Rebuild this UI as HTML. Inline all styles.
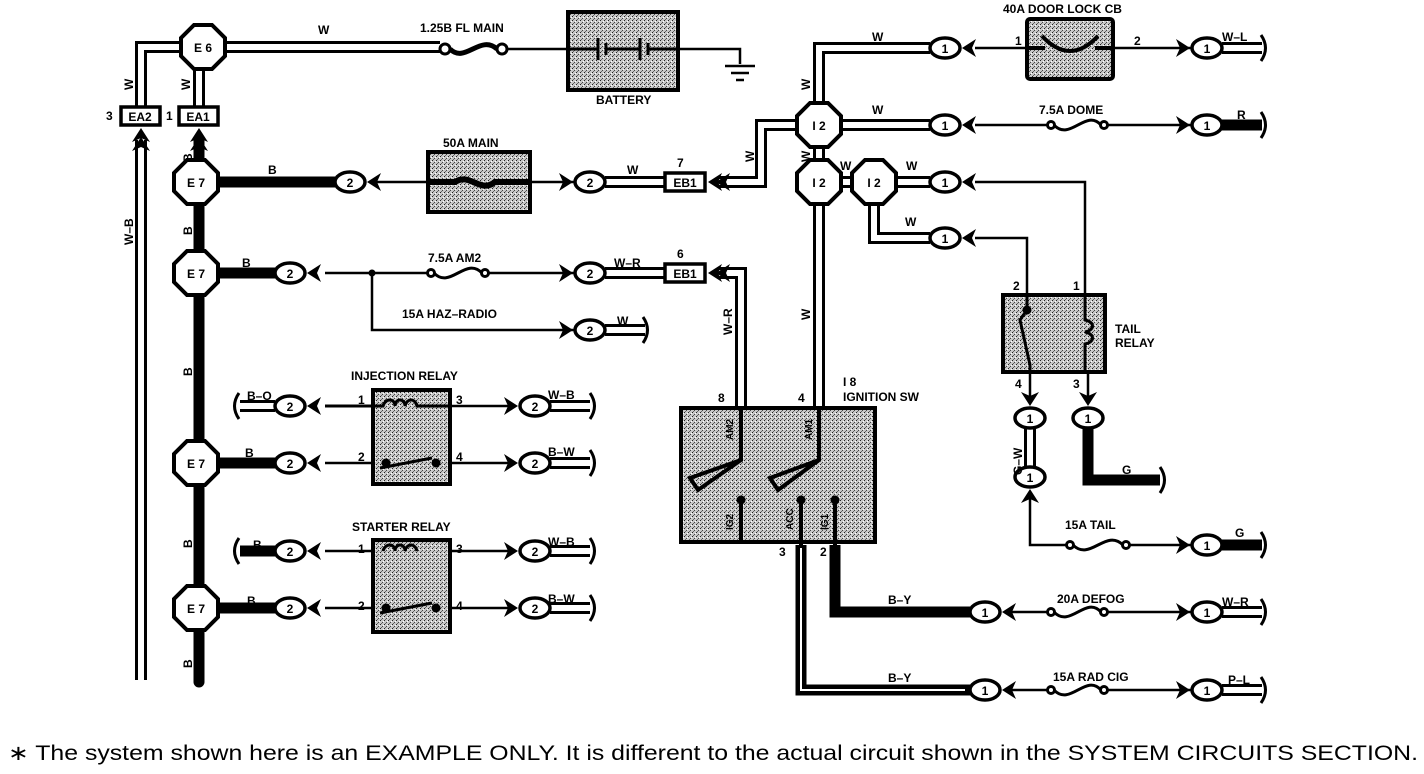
<!DOCTYPE html>
<html><head><meta charset="utf-8"><style>
html,body{margin:0;padding:0;background:#fff;}
svg{display:block;}
text{font-family:"Liberation Sans",Arial,sans-serif;font-weight:bold;font-size:12px;fill:#000;}
.n{font-size:13px;text-anchor:middle;}
.l{font-size:12.5px;}
</style></head><body>
<svg width="1424" height="774" viewBox="0 0 1424 774" xmlns="http://www.w3.org/2000/svg">
<defs>
<pattern id="st" width="4" height="4" patternUnits="userSpaceOnUse">
<rect width="4" height="4" fill="#c8c8c8"/><rect x="0" y="0" width="1" height="1" fill="#222"/><rect x="2" y="2" width="1" height="1" fill="#444"/><rect x="3" y="1" width="1" height="1" fill="#fff"/><rect x="1" y="3" width="1" height="1" fill="#666"/>
</pattern>
<polygon id="oct" points="-9,-22 9,-22 22,-9 22,9 9,22 -9,22 -22,9 -22,-9" fill="#fff" stroke="#000" stroke-width="4"/>
<ellipse id="pill" cx="0" cy="0" rx="15" ry="10" fill="#fff" stroke="#000" stroke-width="3.5"/>
<polygon id="chl" points="0,0 14,-9 10,0 14,9" fill="#000"/>
<polygon id="chr" points="0,0 -14,-9 -10,0 -14,9" fill="#000"/>
<polygon id="chu" points="0,0 -9,14 0,10 9,14" fill="#000"/>
<polygon id="chd" points="0,0 -9,-14 0,-10 9,-14" fill="#000"/>
<path id="curl" d="M-2,-13 Q7,0 -2,13" fill="none" stroke="#000" stroke-width="3"/>
</defs>

<g fill="none" stroke-linejoin="miter">
<g stroke="#000" stroke-width="12">
<path d="M203,47 H440"/>
<path d="M203,47 H141 V108"/>
<path d="M199,60 V108"/>
<path d="M141,140 V680"/>
<path d="M605,182 H665"/>
<path d="M718,182 H761 V125 H819"/>
<path d="M605,273 H665"/>
<path d="M718,273 H741 V410"/>
<path d="M605,330 H645"/>
<path d="M819,125 V48 H930"/>
<path d="M819,125 H930"/>
<path d="M819,125 V410"/>
<path d="M819,182 H874"/>
<path d="M874,182 H930"/>
<path d="M874,182 V238 H930"/>
<path d="M240,406 H275"/>
<path d="M550,406 H590"/>
<path d="M550,463 H590"/>
<path d="M550,551 H590"/>
<path d="M550,608 H590"/>
<path d="M1222,48 H1262"/>
<path d="M1222,612 H1262"/>
<path d="M1222,690 H1262"/>
<path d="M1030,428 V467"/>
</g>
<g stroke="#fff" stroke-width="6">
<path d="M203,47 H440"/>
<path d="M203,47 H141 V108"/>
<path d="M199,60 V108"/>
<path d="M141,140 V680"/>
<path d="M605,182 H665"/>
<path d="M718,182 H761 V125 H819"/>
<path d="M605,273 H665"/>
<path d="M718,273 H741 V410"/>
<path d="M605,330 H645"/>
<path d="M819,125 V48 H930"/>
<path d="M819,125 H930"/>
<path d="M819,125 V410"/>
<path d="M819,182 H874"/>
<path d="M874,182 H930"/>
<path d="M874,182 V238 H930"/>
<path d="M240,406 H275"/>
<path d="M550,406 H590"/>
<path d="M550,463 H590"/>
<path d="M550,551 H590"/>
<path d="M550,608 H590"/>
<path d="M1222,48 H1262"/>
<path d="M1222,612 H1262"/>
<path d="M1222,690 H1262"/>
<path d="M1030,428 V467"/>
</g>
</g>

<g fill="none" stroke="#000" stroke-width="11" stroke-linecap="butt">
<path d="M199,140 V682" stroke-linecap="round"/>
<path d="M196,182 H335"/>
<path d="M196,273 H275"/>
<path d="M196,463 H275"/>
<path d="M196,608 H275"/>
<path d="M240,551 H275"/>
<path d="M835,545 V612 H970"/>
<path d="M801,545 V690 H970"/>
<path d="M1222,125 H1262"/>
<path d="M1088,428 V480 H1160"/>
<path d="M1222,545 H1262"/>
</g>
<path d="M801,548 V690 H965" fill="none" stroke="#fff" stroke-width="2"/>

<g fill="none" stroke="#000" stroke-width="2.5">
<path d="M502,49 H568"/>
<path d="M678,49 H740 V64"/>
<path d="M725,66 H755 M731,73 H749 M736,80 H744" stroke-width="2.5"/>
<path d="M372,182 H428 M530,182 H575"/>
<path d="M325,273 H428 M488,273 H575"/>
<path d="M372,273 V330 H575"/>
<path d="M325,406 H372 M450,406 H515"/>
<path d="M325,463 H372 M450,463 H515"/>
<path d="M325,551 H372 M450,551 H515"/>
<path d="M325,608 H372 M450,608 H515"/>
<path d="M975,48 H1027 M1113,48 H1192"/>
<path d="M975,125 H1048 M1107,125 H1192"/>
<path d="M975,182 H1085 V295"/>
<path d="M975,238 H1027 V295"/>
<path d="M1030,372 V398 M1088,372 V398"/>
<path d="M1030,498 V545 H1066 M1129,545 H1192"/>
<path d="M1012,612 H1048 M1107,612 H1192"/>
<path d="M1012,690 H1048 M1107,690 H1192"/>
</g>
<circle cx="372" cy="273" r="3.5"/>

<g fill="none" stroke="#000" stroke-width="3">
<circle cx="445" cy="49" r="5" fill="#fff"/><circle cx="502" cy="49" r="5" fill="#fff"/>
<path d="M450,49 C465,64 480,34 497,49" stroke-width="5"/>
<circle cx="431" cy="273" r="3.5"/><circle cx="485" cy="273" r="3.5"/><path d="M434,273 C450,290 466,256 482,273"/>
<circle cx="1051" cy="125" r="3.5"/><circle cx="1104" cy="125" r="3.5"/><path d="M1054,125 C1070,142 1086,108 1101,125"/>
<circle cx="1070" cy="545" r="3.5"/><circle cx="1126" cy="545" r="3.5"/><path d="M1073,545 C1090,562 1106,528 1123,545"/>
<circle cx="1051" cy="612" r="3.5"/><circle cx="1104" cy="612" r="3.5"/><path d="M1054,612 C1070,629 1086,595 1101,612"/>
<circle cx="1051" cy="690" r="3.5"/><circle cx="1104" cy="690" r="3.5"/><path d="M1054,690 C1070,707 1086,673 1101,690"/>
</g>

<g stroke="#000" stroke-width="4" fill="url(#st)">
<rect x="568" y="12" width="110" height="78"/>
<rect x="428" y="152" width="102" height="60"/>
<rect x="1027" y="19" width="86" height="60" rx="3"/>
<rect x="373" y="390" width="77" height="94"/>
<rect x="373" y="540" width="77" height="92"/>
<rect x="681" y="408" width="194" height="134"/>
<rect x="1003" y="295" width="102" height="77"/>
</g>
<g stroke="#000" stroke-width="3" fill="none">
<path d="M568,49 H598 M598,38 V60 M606,43 V55 M606,49 H640 M640,38 V60 M648,43 V55 M648,49 H678"/>
<path d="M430,182 H455 C470,172 480,194 495,182 H530" stroke-width="6"/>
<path d="M1027,48 H1045 M1113,48 H1095 M1042,36 Q1070,66 1098,36" stroke-width="4"/>
<path d="M325,406 H372 H383 C385,398 395,398 395,406 C395,398 405,398 405,406 C407,398 415,398 417,406 H450" stroke-width="3"/>
<path d="M380,468 L432,458" stroke-width="3"/><circle cx="386" cy="463" r="3" fill="#000"/><circle cx="436" cy="463" r="3" fill="#000"/>
<path d="M383,551 C385,543 395,543 395,551 C395,543 405,543 405,551 C407,543 415,543 417,551" stroke-width="3"/>
<path d="M380,613 L432,603" stroke-width="3"/><circle cx="386" cy="608" r="3" fill="#000"/><circle cx="436" cy="608" r="3" fill="#000"/>
<path d="M741,408 V460 L690,478 L698,490 L741,460" stroke-width="4"/>
<path d="M819,408 V460 L770,478 L778,490 L819,460" stroke-width="4"/>
<path d="M741,500 V542 M801,500 V545 M835,500 V545" stroke-width="4"/>
<circle cx="741" cy="500" r="3" fill="#000"/><circle cx="801" cy="500" r="3" fill="#000"/><circle cx="835" cy="500" r="3" fill="#000"/>
<path d="M1027,295 V310 L1020,320 L1030,365 V372" stroke-width="3"/><circle cx="1027" cy="310" r="3" fill="#000"/>
<path d="M1085,295 V320 C1095,322 1095,330 1085,332 C1095,334 1095,342 1085,344 V372" stroke-width="3"/>
</g>

<use href="#oct" x="203" y="47"/>
<use href="#oct" x="196" y="182"/>
<use href="#oct" x="196" y="273"/>
<use href="#oct" x="196" y="463"/>
<use href="#oct" x="196" y="608"/>
<use href="#oct" x="819" y="125"/>
<use href="#oct" x="819" y="182"/>
<use href="#oct" x="874" y="182"/>
<g class="n" style="font-size:14px">
<text x="203" y="52" text-anchor="middle">E 6</text>
<text x="196" y="187" text-anchor="middle">E 7</text>
<text x="196" y="278" text-anchor="middle">E 7</text>
<text x="196" y="468" text-anchor="middle">E 7</text>
<text x="196" y="613" text-anchor="middle">E 7</text>
<text x="819" y="130" text-anchor="middle">I 2</text>
<text x="819" y="187" text-anchor="middle">I 2</text>
<text x="874" y="187" text-anchor="middle">I 2</text>
</g>

<g stroke="#000" stroke-width="3.5" fill="#fff">
<rect x="121" y="107" width="39" height="18"/>
<rect x="179" y="107" width="39" height="18"/>
<rect x="665" y="173" width="40" height="18"/>
<rect x="665" y="264" width="40" height="18"/>
</g>
<text x="140" y="121" text-anchor="middle">EA2</text>
<text x="198" y="121" text-anchor="middle">EA1</text>
<text x="685" y="187" text-anchor="middle">EB1</text>
<text x="685" y="278" text-anchor="middle">EB1</text>
<use href="#chu" x="141" y="128"/><use href="#chu" x="141" y="137"/>
<use href="#chu" x="199" y="128"/><use href="#chu" x="199" y="137"/>
<use href="#chl" x="708" y="182"/><use href="#chl" x="716" y="182"/>
<use href="#chl" x="708" y="273"/><use href="#chl" x="716" y="273"/>

<g>
<use href="#pill" x="350" y="182"/><use href="#chl" x="367" y="182"/>
<use href="#pill" x="590" y="182"/><use href="#chr" x="573" y="182"/>
<use href="#pill" x="290" y="273"/><use href="#chl" x="307" y="273"/>
<use href="#pill" x="590" y="273"/><use href="#chr" x="573" y="273"/>
<use href="#pill" x="590" y="330"/><use href="#chr" x="573" y="330"/>
<use href="#pill" x="290" y="406"/><use href="#chl" x="307" y="406"/>
<use href="#pill" x="290" y="463"/><use href="#chl" x="307" y="463"/>
<use href="#pill" x="290" y="551"/><use href="#chl" x="307" y="551"/>
<use href="#pill" x="290" y="608"/><use href="#chl" x="307" y="608"/>
<use href="#pill" x="535" y="406"/><use href="#chr" x="518" y="406"/>
<use href="#pill" x="535" y="463"/><use href="#chr" x="518" y="463"/>
<use href="#pill" x="535" y="551"/><use href="#chr" x="518" y="551"/>
<use href="#pill" x="535" y="608"/><use href="#chr" x="518" y="608"/>
<use href="#pill" x="945" y="48"/><use href="#chl" x="962" y="48"/>
<use href="#pill" x="945" y="125"/><use href="#chl" x="962" y="125"/>
<use href="#pill" x="945" y="182"/><use href="#chl" x="962" y="182"/>
<use href="#pill" x="945" y="238"/><use href="#chl" x="962" y="238"/>
<use href="#pill" x="1207" y="48"/><use href="#chr" x="1190" y="48"/>
<use href="#pill" x="1207" y="125"/><use href="#chr" x="1190" y="125"/>
<use href="#pill" x="1207" y="545"/><use href="#chr" x="1190" y="545"/>
<use href="#pill" x="1207" y="612"/><use href="#chr" x="1190" y="612"/>
<use href="#pill" x="1207" y="690"/><use href="#chr" x="1190" y="690"/>
<use href="#pill" x="985" y="612"/><use href="#chl" x="1002" y="612"/>
<use href="#pill" x="985" y="690"/><use href="#chl" x="1002" y="690"/>
<use href="#pill" x="1030" y="418"/><use href="#chd" x="1030" y="406"/>
<use href="#pill" x="1088" y="418"/><use href="#chd" x="1088" y="406"/>
<use href="#pill" x="1030" y="477"/><use href="#chu" x="1030" y="489"/>
</g>
<g class="n">
<text x="350" y="187">2</text><text x="590" y="187">2</text>
<text x="290" y="278">2</text><text x="590" y="278">2</text><text x="590" y="335">2</text>
<text x="290" y="411">2</text><text x="290" y="468">2</text><text x="290" y="556">2</text><text x="290" y="613">2</text>
<text x="535" y="411">2</text><text x="535" y="468">2</text><text x="535" y="556">2</text><text x="535" y="613">2</text>
<text x="945" y="53">1</text><text x="945" y="130">1</text><text x="945" y="187">1</text><text x="945" y="243">1</text>
<text x="1207" y="53">1</text><text x="1207" y="130">1</text><text x="1207" y="550">1</text><text x="1207" y="617">1</text><text x="1207" y="695">1</text>
<text x="985" y="617">1</text><text x="985" y="695">1</text>
<text x="1030" y="423">1</text><text x="1088" y="423">1</text><text x="1030" y="482">1</text>
</g>

<use href="#curl" x="645" y="330"/>
<use href="#curl" x="237" y="406" transform="rotate(180 237 406)"/>
<use href="#curl" x="237" y="551" transform="rotate(180 237 551)"/>
<use href="#curl" x="592" y="406"/><use href="#curl" x="592" y="463"/>
<use href="#curl" x="592" y="551"/><use href="#curl" x="592" y="608"/>
<use href="#curl" x="1263" y="48"/><use href="#curl" x="1263" y="125"/>
<use href="#curl" x="1263" y="545"/><use href="#curl" x="1263" y="612"/>
<use href="#curl" x="1263" y="690"/><use href="#curl" x="1162" y="480"/>

<g class="l">
<text x="318" y="34">W</text>
<text x="420" y="32">1.25B FL MAIN</text>
<text x="596" y="104">BATTERY</text>
<text x="443" y="147">50A MAIN</text>
<text x="268" y="174">B</text>
<text x="627" y="174">W</text>
<text x="677" y="167">7</text>
<text x="242" y="267">B</text>
<text x="428" y="262">7.5A AM2</text>
<text x="614" y="267">W–R</text>
<text x="677" y="258">6</text>
<text x="402" y="318">15A HAZ–RADIO</text>
<text x="617" y="325">W</text>
<text x="351" y="380">INJECTION RELAY</text>
<text x="247" y="400">B–O</text>
<text x="358" y="404">1</text><text x="456" y="404">3</text>
<text x="358" y="461">2</text><text x="456" y="461">4</text>
<text x="548" y="399">W–B</text>
<text x="548" y="456">B–W</text>
<text x="245" y="457">B</text>
<text x="352" y="531">STARTER RELAY</text>
<text x="253" y="549">B</text>
<text x="358" y="553">1</text><text x="456" y="553">3</text>
<text x="358" y="610">2</text><text x="456" y="610">4</text>
<text x="548" y="546">W–B</text>
<text x="548" y="603">B–W</text>
<text x="247" y="605">B</text>
<text x="106" y="120">3</text>
<text x="166" y="120">1</text>
<text x="718" y="402">8</text>
<text x="798" y="402">4</text>
<text x="843" y="386">I 8</text>
<text x="843" y="401">IGNITION SW</text>
<text x="779" y="556">3</text>
<text x="820" y="556">2</text>
<text x="888" y="604">B–Y</text>
<text x="888" y="682">B–Y</text>
<text x="1057" y="603">20A DEFOG</text>
<text x="1053" y="681">15A RAD CIG</text>
<text x="1222" y="606">W–R</text>
<text x="1228" y="684">P–L</text>
<text x="872" y="41">W</text>
<text x="872" y="114">W</text>
<text x="840" y="170">W</text>
<text x="906" y="170">W</text>
<text x="905" y="226">W</text>
<text x="1003" y="13">40A DOOR LOCK CB</text>
<text x="1015" y="45">1</text><text x="1134" y="45">2</text>
<text x="1222" y="41">W–L</text>
<text x="1039" y="114">7.5A DOME</text>
<text x="1237" y="119">R</text>
<text x="1013" y="290">2</text><text x="1073" y="290">1</text>
<text x="1115" y="333">TAIL</text>
<text x="1115" y="347">RELAY</text>
<text x="1015" y="388">4</text><text x="1073" y="388">3</text>
<text x="1122" y="474">G</text>
<text x="1065" y="529">15A TAIL</text>
<text x="1235" y="537">G</text>
<text transform="translate(133,90) rotate(-90)">W</text>
<text transform="translate(190,90) rotate(-90)">W</text>
<text transform="translate(133,245) rotate(-90)">W–B</text>
<text transform="translate(192,162) rotate(-90)">B</text>
<text transform="translate(192,235) rotate(-90)">B</text>
<text transform="translate(192,376) rotate(-90)">B</text>
<text transform="translate(192,548) rotate(-90)">B</text>
<text transform="translate(192,668) rotate(-90)">B</text>
<text transform="translate(754,162) rotate(-90)">W</text>
<text transform="translate(732,335) rotate(-90)">W–R</text>
<text transform="translate(810,90) rotate(-90)">W</text>
<text transform="translate(810,162) rotate(-90)">W</text>
<text transform="translate(810,320) rotate(-90)">W</text>
<text transform="translate(1022,475) rotate(-90)">G–W</text>
</g>
<g fill="#000">
<text transform="translate(733,440) rotate(-90)" style="font-size:10px">AM2</text>
<text transform="translate(812,440) rotate(-90)" style="font-size:10px">AM1</text>
<text transform="translate(733,530) rotate(-90)" style="font-size:10px">IG2</text>
<text transform="translate(793,530) rotate(-90)" style="font-size:10px">ACC</text>
<text transform="translate(828,530) rotate(-90)" style="font-size:10px">IG1</text>
</g>

<text x="8" y="760" textLength="1410" lengthAdjust="spacingAndGlyphs" style="font-size:21px;font-weight:normal">∗ The system shown here is an EXAMPLE ONLY. It is different to the actual circuit shown in the SYSTEM CIRCUITS SECTION.</text>
</svg>
</body></html>
